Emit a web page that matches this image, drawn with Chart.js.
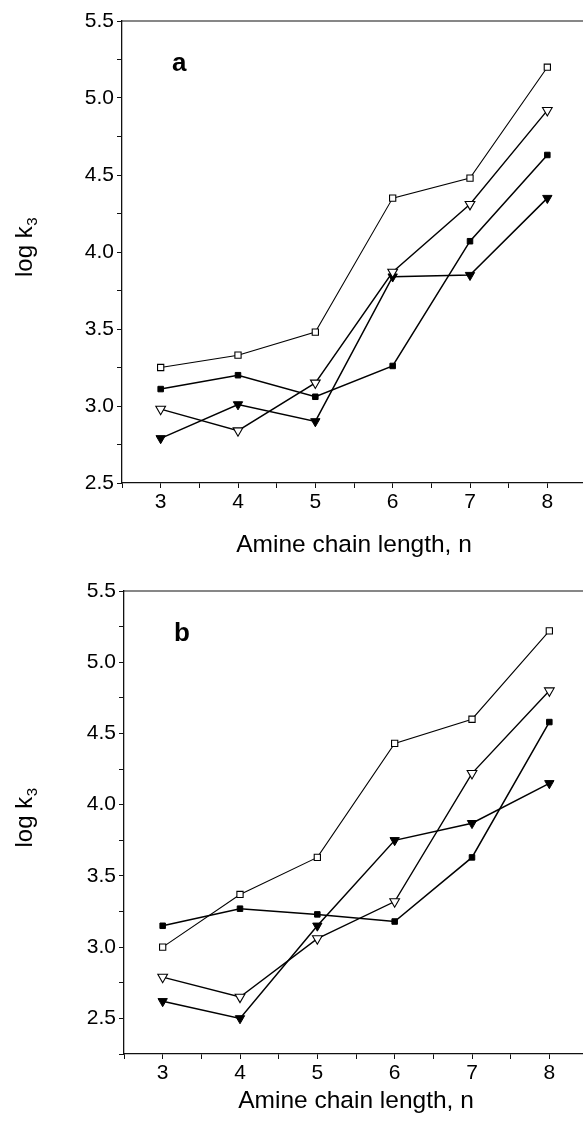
<!DOCTYPE html>
<html>
<head>
<meta charset="utf-8">
<script src="https://cdn.jsdelivr.net/npm/chart.js@4.4.0/dist/chart.umd.min.js"></script>
<style>
  html, body { margin: 0; padding: 0; background: #fff; overflow: hidden; }
  body { width: 583px; height: 1126px; }
  .panel { position: relative; width: 600px; height: 563px; }
</style>
</head>
<body>
<div class="panel"><canvas id="chartA"></canvas></div>
<div class="panel"><canvas id="chartB"></canvas></div>
<script>
// amine chain length n (x values)
const chainLength = [3, 4, 5, 6, 7, 8];
const xTickLabels = ['3', '4', '5', '6', '7', '8'];
const yTickLabels = ['2.5', '3.0', '3.5', '4.0', '4.5', '5.0', '5.5'];

// panel a, log k3
const aOpenSquare = [3.25, 3.33, 3.48, 4.35, 4.48, 5.20];
const aFilledSquare = [3.11, 3.20, 3.06, 3.26, 4.07, 4.63];
const aOpenTriangle = [2.98, 2.84, 3.15, 3.87, 4.31, 4.92];
const aFilledTriangle = [2.79, 3.01, 2.90, 3.84, 3.85, 4.35];

// panel b, log k3
const bOpenSquare = [3.00, 3.37, 3.63, 4.43, 4.60, 5.22];
const bFilledSquare = [3.15, 3.27, 3.23, 3.18, 3.63, 4.58];
const bOpenTriangle = [2.79, 2.65, 3.06, 3.32, 4.22, 4.80];
const bFilledTriangle = [2.62, 2.50, 3.15, 3.75, 3.87, 4.15];

const FONT = '"Liberation Sans", Arial, Helvetica, sans-serif';
Chart.defaults.font.family = FONT;
Chart.defaults.color = '#000';

function toPoints(values) {
    return chainLength.map((n, i) => ({ x: n, y: values[i] }));
}

function labelFor(list, value) {
    const hit = list.find(l => Math.abs(parseFloat(l) - value) < 1e-6);
    return hit === undefined ? '' : hit;
}

// frame top line, panel letter and the y title with its subscript
const decorPlugin = {
    id: 'decor',
    afterDraw(chart, args, opts) {
        const { ctx, chartArea } = chart;
        ctx.save();
        ctx.strokeStyle = '#111';
        ctx.lineWidth = 1.2;
        ctx.beginPath();
        ctx.moveTo(chartArea.left, chartArea.top);
        ctx.lineTo(chart.width, chartArea.top);
        ctx.stroke();

        ctx.fillStyle = '#000';
        ctx.textBaseline = 'alphabetic';
        ctx.textAlign = 'left';
        ctx.font = 'bold 26px ' + FONT;
        ctx.fillText(opts.letter, chartArea.left + 50, chartArea.top + 50);

        const mainFont = '24px ' + FONT;
        const subFont = '15px ' + FONT;
        const cy = (chartArea.top + chartArea.bottom) / 2;
        ctx.translate(31.5, cy + 25);
        ctx.rotate(-Math.PI / 2);
        ctx.font = mainFont;
        const w = ctx.measureText('log k').width;
        ctx.fillText('log k', 0, 0);
        ctx.font = subFont;
        ctx.fillText('3', w + 0.5, 5);
        ctx.restore();
    }
};

function makeDatasets(openSq, filledSq, openTri, filledTri) {
    return [
        {
            data: toPoints(openSq), borderColor: '#000', borderWidth: 1.1,
            pointStyle: 'rect', pointRadius: 4.4, pointBackgroundColor: '#fff',
            pointBorderColor: '#000', pointBorderWidth: 1.1
        },
        {
            data: toPoints(filledSq), borderColor: '#000', borderWidth: 1.5,
            pointStyle: 'rect', pointRadius: 3.9, pointBackgroundColor: '#000',
            pointBorderColor: '#000', pointBorderWidth: 1
        },
        {
            data: toPoints(openTri), borderColor: '#000', borderWidth: 1.4,
            pointStyle: 'triangle', pointRotation: 180, pointRadius: 5.6,
            pointBackgroundColor: '#fff', pointBorderColor: '#000', pointBorderWidth: 1.1
        },
        {
            data: toPoints(filledTri), borderColor: '#000', borderWidth: 1.5,
            pointStyle: 'triangle', pointRotation: 180, pointRadius: 5.4,
            pointBackgroundColor: '#000', pointBorderColor: '#000', pointBorderWidth: 1
        }
    ];
}

function makeOptions(cfg) {
    return {
        responsive: true,
        maintainAspectRatio: false,
        animation: false,
        layout: { padding: { top: cfg.top, right: cfg.right, left: 0, bottom: 0 } },
        elements: { line: { tension: 0, fill: false } },
        plugins: {
            legend: { display: false },
            tooltip: { enabled: false },
            decor: { letter: cfg.letter }
        },
        scales: {
            x: {
                type: 'linear',
                min: 2.5,
                max: 8.5,
                ticks: {
                    stepSize: 0.5, autoSkip: false, maxRotation: 0, padding: 2,
                    color: '#000', font: { size: 21 },
                    callback: v => labelFor(xTickLabels, v)
                },
                grid: { display: true, drawOnChartArea: false, drawTicks: true, tickLength: 5, color: '#111' },
                border: { display: true, color: '#111', width: 1.3 },
                title: {
                    display: true, text: 'Amine chain length, n', color: '#000',
                    font: { size: 24.5 }, padding: { top: 0, bottom: cfg.titlePad }
                },
                afterFit: s => { s.height = cfg.xHeight; }
            },
            y: {
                type: 'linear',
                min: cfg.yMin,
                max: 5.5,
                ticks: {
                    stepSize: 0.25, autoSkip: false, padding: 3,
                    color: '#000', font: { size: 21 },
                    callback: v => labelFor(yTickLabels, v)
                },
                grid: { display: true, drawOnChartArea: false, drawTicks: true, tickLength: 5, color: '#111' },
                border: { display: true, color: '#111', width: 1.3 },
                afterFit: s => { s.width = cfg.yWidth; }
            }
        }
    };
}

new Chart(document.getElementById('chartA'), {
    type: 'line',
    data: { datasets: makeDatasets(aOpenSquare, aFilledSquare, aOpenTriangle, aFilledTriangle) },
    options: makeOptions({ letter: 'a', top: 21, right: 14, yMin: 2.5, yWidth: 122, xHeight: 80, titlePad: 3 }),
    plugins: [decorPlugin]
});

new Chart(document.getElementById('chartB'), {
    type: 'line',
    data: { datasets: makeDatasets(bOpenSquare, bFilledSquare, bOpenTriangle, bFilledTriangle) },
    options: makeOptions({ letter: 'b', top: 28, right: 12, yMin: 2.25, yWidth: 124, xHeight: 72, titlePad: 10 }),
    plugins: [decorPlugin]
});
</script>
</body>
</html>
